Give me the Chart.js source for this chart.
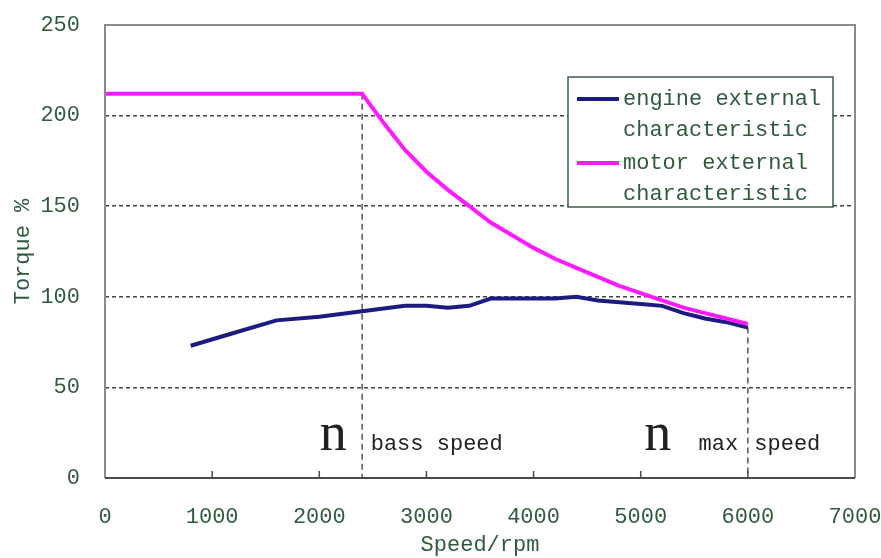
<!DOCTYPE html>
<html>
<head>
<meta charset="utf-8">
<script src="https://cdn.jsdelivr.net/npm/chart.js@4.4.0/dist/chart.umd.min.js"></script>
<style>
    html, body { margin: 0; padding: 0; background: #fff; }
</style>
</head>
<body>
<canvas id="torque" width="881" height="558"></canvas>
<script>
// values
const engineSpeed  = [800, 1200, 1600, 2000, 2400, 2800, 3000, 3200, 3400, 3600, 4000, 4200, 4400, 4600, 4800, 5000, 5200, 5400, 5600, 5800, 6000];
const engineTorque = [73, 80, 87, 89, 92, 95, 95, 94, 95, 99, 99, 99, 100, 98, 97, 96, 95, 91, 88, 86, 83];

const motorSpeed  = [0, 2400, 2600, 2800, 3000, 3200, 3400, 3600, 3800, 4000, 4200, 4400, 4600, 4800, 5000, 5200, 5400, 5600, 5800, 6000];
const motorTorque = [212, 212, 196, 181, 169, 159, 150, 141, 134, 127, 121, 116, 111, 106, 102, 98, 94, 91, 88, 85];

// marker speeds (base speed, max speed) and where their guide lines stop
const guideSpeed = [2400, 6000];
const guideTop   = [212, 83];

const xTicks = [0, 1000, 2000, 3000, 4000, 5000, 6000, 7000];
const yTicks = [0, 50, 100, 150, 200, 250];

const textColor = '#2f5a3b';
const mono = "'Liberation Mono', 'DejaVu Sans Mono', monospace";

function points(xs, ys) {
    const out = [];
    for (let i = 0; i < xs.length; i++) {
        out.push({ x: xs[i], y: ys[i] });
    }
    return out;
}

const extras = {
    id: 'extras',
    afterDatasetsDraw(chart) {
        const { ctx, chartArea: a, scales: { x, y } } = chart;
        ctx.save();

        // frame
        ctx.strokeStyle = '#8a8a8a';
        ctx.lineWidth = 2;
        ctx.beginPath();
        ctx.moveTo(a.left, a.bottom);
        ctx.lineTo(a.left, a.top);
        ctx.lineTo(a.right, a.top);
        ctx.lineTo(a.right, a.bottom);
        ctx.stroke();
        ctx.strokeStyle = '#4a4a4a';
        ctx.beginPath();
        ctx.moveTo(a.left, a.bottom);
        ctx.lineTo(a.right, a.bottom);
        ctx.stroke();

        // small ticks pointing into the plot
        ctx.lineWidth = 1.5;
        for (let i = 1; i < x.ticks.length - 1; i++) {
            const px = x.getPixelForTick(i);
            ctx.beginPath();
            ctx.moveTo(px, a.bottom);
            ctx.lineTo(px, a.bottom - 7);
            ctx.stroke();
        }

        // n base speed / n max speed
        ctx.fillStyle = '#222';
        ctx.textBaseline = 'alphabetic';
        ctx.textAlign = 'center';
        ctx.font = "54px 'Liberation Serif', 'DejaVu Serif', serif";
        ctx.fillText('n', x.getPixelForValue(2130), 450);
        ctx.fillText('n', x.getPixelForValue(5160), 450);
        ctx.font = '22px ' + mono;
        ctx.textAlign = 'left';
        ctx.fillText('bass speed', x.getPixelForValue(2480), 450);
        ctx.fillText('max', x.getPixelForValue(5540), 450);
        ctx.fillText('speed', x.getPixelForValue(6060), 450);

        // legend box
        const lx = 568, ly = 77, lw = 265, lh = 130;
        ctx.fillStyle = '#fff';
        ctx.fillRect(lx, ly, lw, lh);
        ctx.strokeStyle = '#3d5a44';
        ctx.lineWidth = 1.5;
        ctx.strokeRect(lx, ly, lw, lh);

        const entries = [
            { color: '#1c1c80', lines: ['engine external', 'characteristic'], y: 99 },
            { color: '#ff1aff', lines: ['motor external', 'characteristic'], y: 163 }
        ];
        ctx.textBaseline = 'middle';
        ctx.font = '22px ' + mono;
        entries.forEach(e => {
            ctx.strokeStyle = e.color;
            ctx.lineWidth = 4;
            ctx.beginPath();
            ctx.moveTo(577, e.y);
            ctx.lineTo(619, e.y);
            ctx.stroke();
            ctx.fillStyle = textColor;
            ctx.fillText(e.lines[0], 623, e.y);
            ctx.fillText(e.lines[1], 623, e.y + 31);
        });

        ctx.restore();
    }
};

const guides = guideSpeed.map((s, i) => ({
    data: points([s, s], [guideTop[i], 0]),
    borderColor: '#555',
    borderWidth: 1.5,
    borderDash: [6, 4],
    pointRadius: 0,
    order: 3
}));

new Chart(document.getElementById('torque').getContext('2d'), {
    type: 'line',
    data: {
        datasets: [
            {
                label: 'engine external characteristic',
                data: points(engineSpeed, engineTorque),
                borderColor: '#1c1c80',
                borderWidth: 4,
                pointRadius: 0,
                tension: 0,
                order: 1
            },
            {
                label: 'motor external characteristic',
                data: points(motorSpeed, motorTorque),
                borderColor: '#ff1aff',
                borderWidth: 4,
                pointRadius: 0,
                tension: 0,
                order: 0
            },
            ...guides
        ]
    },
    options: {
        responsive: false,
        animation: false,
        layout: {
            padding: { left: 0, top: 25, right: 26, bottom: 0 }
        },
        plugins: {
            legend: { display: false },
            tooltip: { enabled: false }
        },
        scales: {
            x: {
                type: 'linear',
                min: 0,
                max: 7000,
                afterBuildTicks: (scale) => { scale.ticks = xTicks.map(v => ({ value: v })); },
                afterFit: (scale) => {
                    scale.height = 80;
                    scale.paddingLeft = 0;
                    scale.paddingRight = 0;
                },
                ticks: {
                    padding: 18,
                    color: textColor,
                    font: { family: mono, size: 22 },
                    maxRotation: 0,
                    callback: (v) => String(v)
                },
                grid: { display: false },
                border: { display: false },
                title: {
                    display: true,
                    text: 'Speed/rpm',
                    color: textColor,
                    font: { family: mono, size: 22 },
                    padding: { top: 0, bottom: 0 }
                }
            },
            y: {
                min: 0,
                max: 250,
                afterBuildTicks: (scale) => { scale.ticks = yTicks.map(v => ({ value: v })); },
                afterFit: (scale) => {
                    scale.width = 105;
                    scale.paddingTop = 0;
                    scale.paddingBottom = 0;
                },
                ticks: {
                    padding: 25,
                    color: textColor,
                    font: { family: mono, size: 22 },
                    callback: (v) => String(v)
                },
                grid: {
                    drawTicks: false,
                    lineWidth: 1.5,
                    color: (c) => (c.tick && (c.tick.value === 0 || c.tick.value === 250)) ? 'rgba(0,0,0,0)' : '#444'
                },
                border: { display: false, dash: [4, 3] },
                title: {
                    display: true,
                    text: 'Torque %',
                    color: textColor,
                    font: { family: mono, size: 22 },
                    padding: { top: 10, bottom: 0 }
                }
            }
        }
    },
    plugins: [extras]
});
</script>
</body>
</html>
